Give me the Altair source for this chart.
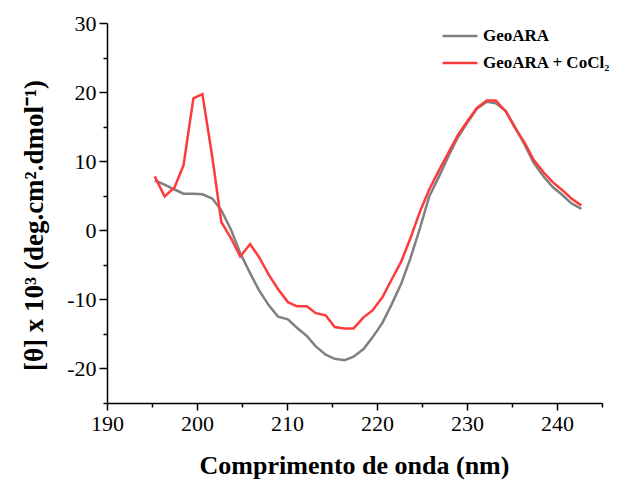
import altair as alt
import pandas as pd

# Wavelength positions as they appear on the x axis of the reference (nm)
wavelength = [195.3, 196.4, 197.5, 198.5, 199.6, 200.6, 201.7, 202.7, 203.8, 204.8,
              205.9, 206.9, 208.0, 209.0, 210.1, 211.1, 212.2, 213.2, 214.3, 215.3,
              216.4, 217.4, 218.5, 219.5, 220.6, 221.6, 222.7, 223.7, 224.8, 225.8,
              226.9, 228.0, 229.0, 230.1, 231.1, 232.2, 233.2, 234.3, 235.3, 236.4,
              237.4, 238.5, 239.5, 240.6, 241.6, 242.7]

geoara = [7.2, 6.6, 5.9, 5.3, 5.3, 5.2, 4.6, 2.9, 0.0, -3.3,
          -6.2, -8.7, -10.9, -12.5, -12.9, -14.1, -15.3, -16.8, -18.0, -18.6,
          -18.8, -18.3, -17.2, -15.5, -13.4, -10.8, -7.7, -4.1, 0.4, 4.9,
          7.8, 10.9, 13.5, 15.7, 17.6, 18.6, 18.4, 17.3, 15.0, 12.4,
          9.8, 7.8, 6.3, 5.1, 3.9, 3.1]

geoara_cocl2 = [7.8, 4.9, 6.2, 9.4, 19.1, 19.7, 10.6, 1.2, -1.2, -3.8,
                -2.0, -3.9, -6.5, -8.5, -10.4, -11.0, -11.0, -12.0, -12.3, -14.0,
                -14.2, -14.2, -12.6, -11.6, -9.7, -7.2, -4.5, -1.2, 2.8, 5.9,
                8.7, 11.4, 13.8, 15.9, 17.7, 18.8, 18.8, 17.2, 14.9, 12.7,
                10.2, 8.4, 7.0, 5.8, 4.6, 3.6]

series_names = ["GeoARA", "GeoARA + CoCl\u2082"]
series_colors = ["#808080", "#ff3a3a"]

x_ticks = [190, 195, 200, 205, 210, 215, 220, 225, 230, 235, 240, 245]
y_ticks = [-25, -20, -15, -10, -5, 0, 5, 10, 15, 20, 25, 30]

FONT = "Liberation Serif"

df1 = pd.DataFrame({"wl": wavelength, "v": geoara, "s": series_names[0]})
df2 = pd.DataFrame({"wl": wavelength, "v": geoara_cocl2, "s": series_names[1]})

x_enc = alt.X(
    "wl:Q",
    scale=alt.Scale(domain=[190, 245], nice=False, zero=False),
    axis=alt.Axis(
        values=x_ticks,
        labelExpr="datum.value % 10 === 0 ? toString(datum.value) : ''",
        tickSize={"condition": {"test": "datum.value % 10 === 0", "value": 7}, "value": 4},
        title="Comprimento de onda (nm)",
        titleFont=FONT, titleFontSize=26, titleFontWeight="bold", titleColor="black",
        titleX=247, titleY=70, titleBaseline="alphabetic", titleAlign="center",
        labelFont=FONT, labelFontSize=22, labelColor="black", labelPadding=3,
        labelFlush=False, labelOverlap=False,
        domainColor="black", domainWidth=1.5, tickColor="black", tickWidth=1.5,
        grid=False,
    ),
)

y_enc = alt.Y(
    "v:Q",
    scale=alt.Scale(domain=[-25, 30], nice=False, zero=False),
    axis=alt.Axis(
        values=y_ticks,
        labelExpr="datum.value % 10 === 0 ? toString(datum.value) : ''",
        tickSize={"condition": {"test": "datum.value % 10 === 0", "value": 8}, "value": 4},
        title="[\u03b8] x 10\u00b3 (deg.cm\u00b2.dmol\u207b\u00b9)",
        titleFont=FONT, titleFontSize=27, titleFontWeight="bold", titleColor="black",
        titleX=-73, titleY=202, titleAngle=-90, titleBaseline="middle", titleAlign="center",
        labelFont=FONT, labelFontSize=22, labelColor="black", labelPadding=3,
        labelOverlap=False, labelFlush=False,
        domainColor="black", domainWidth=1.5, tickColor="black", tickWidth=1.5,
        grid=False,
    ),
)

color_enc = alt.Color(
    "s:N",
    scale=alt.Scale(domain=series_names, range=series_colors),
    legend=alt.Legend(
        title=None, orient="none", legendX=334, legendY=-6, padding=0,
        symbolType="stroke", symbolSize=1225, symbolStrokeWidth=2.5,
        labelFont=FONT, labelFontSize=17, labelFontWeight="bold", labelColor="black",
        labelOffset=4, rowPadding=0, labelLimit=300,
    ),
)

line1 = alt.Chart(df1).mark_line(strokeWidth=2.5).encode(x=x_enc, y=y_enc, color=color_enc)
line2 = alt.Chart(df2).mark_line(strokeWidth=2.5).encode(x=x_enc, y=y_enc, color=color_enc)

chart = (
    alt.layer(line1, line2)
    .properties(
        width=495, height=380,
        autosize=alt.AutoSizeParams(type="none"),
        padding={"left": 107, "top": 23, "right": 42, "bottom": 78},
        background="white",
    )
    .configure_view(stroke=None)
)

chart.save("out.html", embed_options={"renderer": "svg", "actions": False})
